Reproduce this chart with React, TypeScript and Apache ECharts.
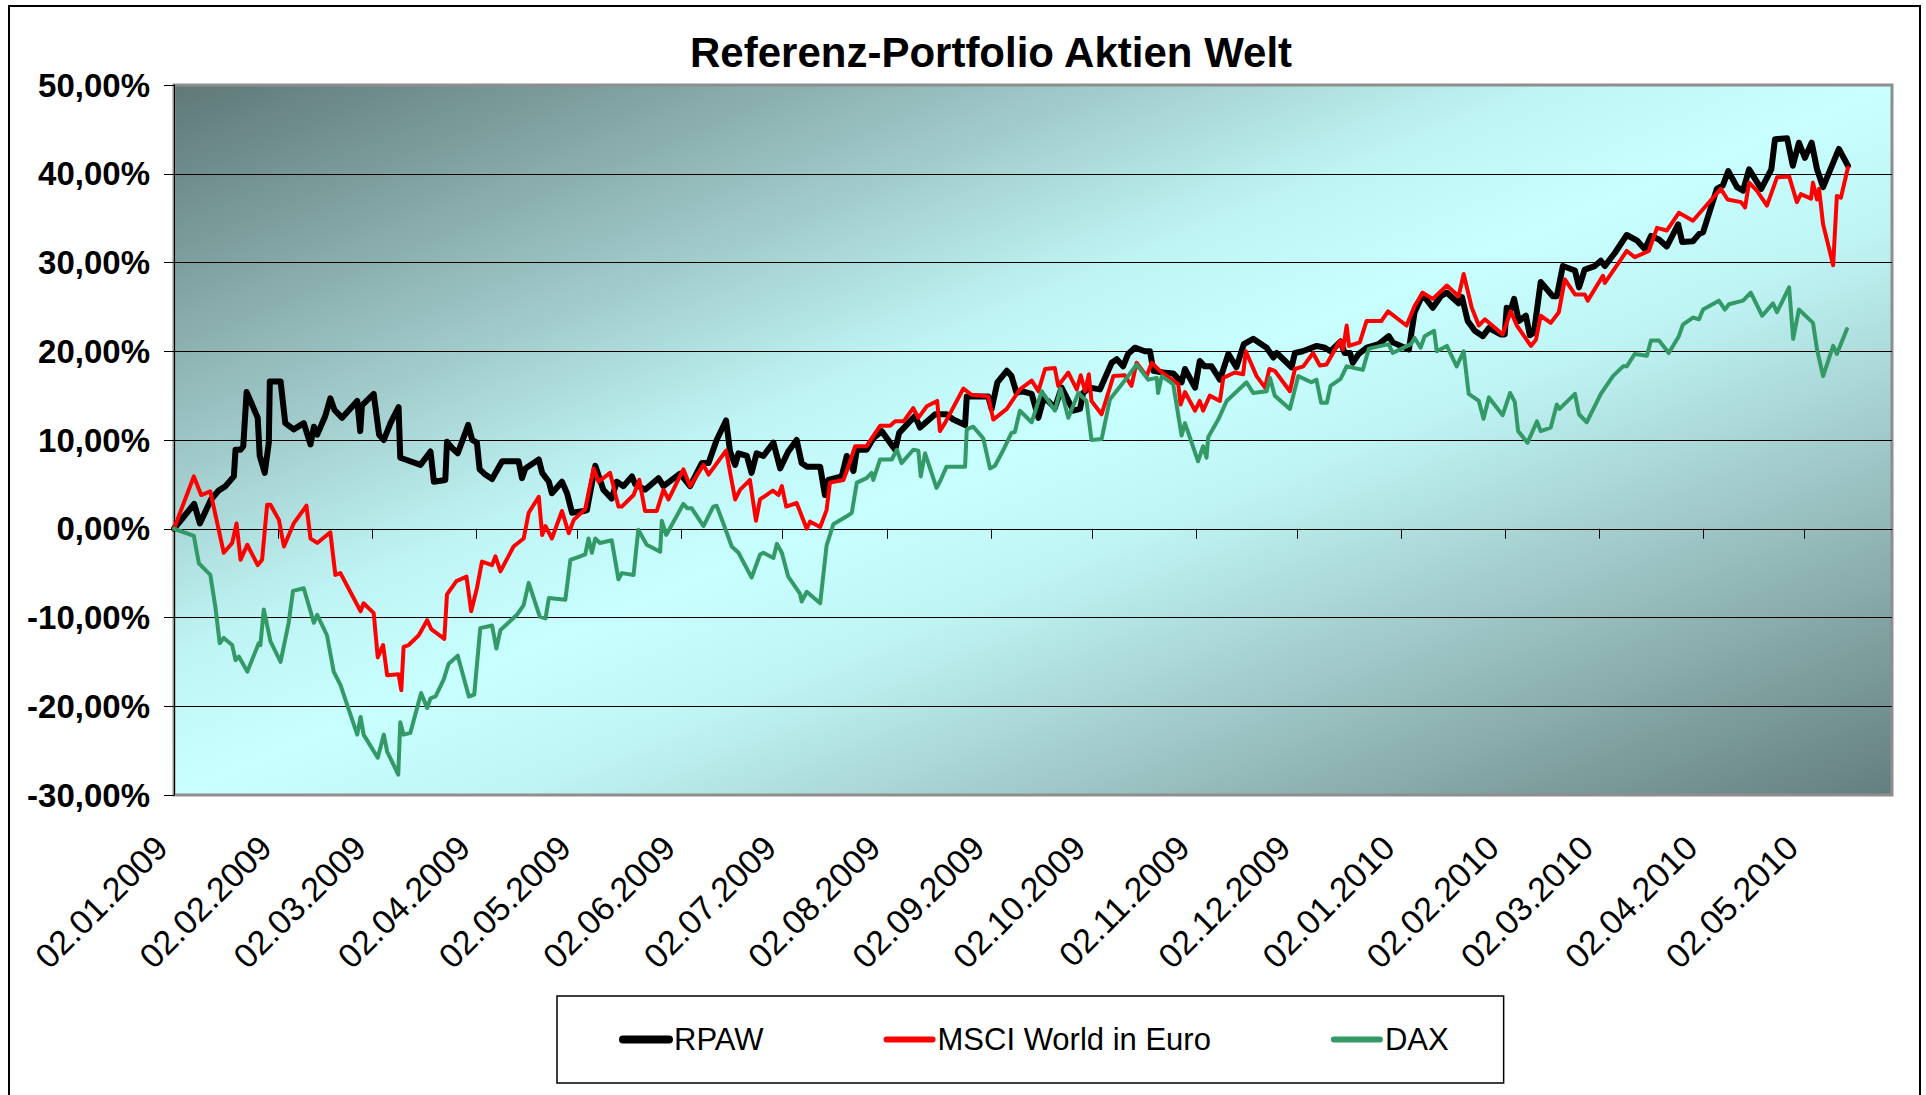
import React, { useEffect, useRef } from 'react';
import * as echarts from 'echarts';

const TITLE = 'Referenz-Portfolio Aktien Welt';
const START = { y: 2009, m: 1, d: 2 };
const X_MAX_DAY = 511;
const TICK_LABELS = [
  '02.01.2009', '02.02.2009', '02.03.2009', '02.04.2009', '02.05.2009', '02.06.2009',
  '02.07.2009', '02.08.2009', '02.09.2009', '02.10.2009', '02.11.2009', '02.12.2009',
  '02.01.2010', '02.02.2010', '02.03.2010', '02.04.2010', '02.05.2010',
];
const Y_MIN = -30;
const Y_MAX = 50;
const Y_STEP = 10;
const NAMES = ['RPAW', 'MSCI World in Euro', 'DAX'];

// [days since 02.01.2009, performance in %]
const RPAW: [number, number][] = [
  [0, 0], [6, 2.8], [7.7, 0.6], [11, 3.3], [13.3, 4.3], [15.3, 4.8], [17.8, 5.9], [18.3, 8.9],
  [19.8, 8.9], [20.6, 9.3], [21.6, 15.4], [23.2, 14], [24.9, 12.5], [25.5, 8.2], [27, 6.3],
  [28.2, 9.7], [28.5, 16.6], [31.7, 16.6], [33.1, 11.9], [35.6, 11.2], [38.6, 11.9], [40.6, 9.5],
  [41.6, 11.5], [42.6, 10.6], [45, 12.7], [46.5, 14.7], [47.7, 13.4], [50, 12.5], [54.5, 14.4],
  [55.4, 11], [55.9, 13.9], [59.4, 15.2], [61, 10.6], [62.4, 10], [64.4, 11.9], [66.8, 13.7],
  [67.3, 8], [68.8, 7.8], [73.3, 7.2], [76.3, 8.7], [77.3, 5.3], [80.7, 5.5], [81.2, 9.8],
  [82.7, 9.1], [84.4, 8.5], [87.5, 11.7], [88.7, 10], [90.1, 9.7], [90.9, 6.7], [92.6, 6.1],
  [94.6, 5.6], [97.6, 7.6], [102.5, 7.6], [103.5, 5.7], [104.5, 6.8], [108.5, 7.8], [109.5, 6.3],
  [111.5, 5.3], [112.4, 4], [115.4, 5.3], [116.9, 4], [118.4, 1.8], [121.9, 2], [122.8, 2.1],
  [125.3, 7.1], [127.7, 4.4], [130.2, 3.4], [131.7, 5.3], [133.7, 4.8], [136.2, 5.9], [137.2, 5],
  [140.1, 4.4], [144.1, 5.7], [145.6, 4.8], [150.5, 6.2], [153.5, 4.8], [157, 7.4], [159, 7.4],
  [161.4, 10], [164.2, 12.2], [165.4, 8.7], [166.9, 7.2], [167.9, 8.5], [170.4, 8.2], [171.8, 6.3],
  [173.3, 8.5], [175.3, 8.2], [178.3, 9.7], [180.3, 6.8], [182.7, 8.7], [185.2, 10], [186.7, 7.4],
  [188.2, 7], [192.2, 7], [193.6, 3.8], [194.6, 5.5], [198.6, 5.9], [200.1, 8.2], [202.1, 6.5],
  [203.1, 8.9], [206, 8.9], [208, 10.2], [210.5, 11], [214.5, 8.9], [215.7, 10.8], [217.9, 11.7],
  [220.4, 12.7], [221.9, 11.4], [226.4, 12.9], [229.8, 12.9], [231.8, 12.3], [235.3, 11.7],
  [235.8, 14.9], [242.2, 14.9], [243.2, 13.5], [244.9, 16.5], [247.7, 17.8], [249.1, 17.2],
  [250.6, 15.3], [252.1, 15.5], [255.1, 15.2], [257.1, 12.5], [258.6, 14.6], [260, 14.4],
  [262, 13.6], [264, 15.9], [267.5, 13.3], [269.5, 13.5], [270.4, 15.3], [272.4, 15.9],
  [275.4, 15.7], [278.9, 18.7], [280.4, 19.1], [282.3, 18.3], [283.8, 19.7], [285.8, 20.4],
  [288.8, 20], [290.3, 20], [291.3, 17.8], [294.2, 17.6], [297.2, 17.5], [299.7, 16.5],
  [300.7, 18], [303.7, 15.9], [305.1, 18.9], [306.6, 18.3], [308.6, 18.3], [311.1, 16.8],
  [313.6, 19.7], [316, 18.2], [318.2, 20.8], [321, 21.4], [325, 20.4], [327, 19.3], [328, 19.8],
  [332.4, 18.2], [333.4, 19.8], [335.7, 20], [339.9, 20.6], [342.3, 20.4], [344, 20], [347, 21.1],
  [348.2, 19.8], [349.8, 19.8], [350.6, 18.7], [352.4, 19.7], [354.8, 20.4], [358.3, 20.8],
  [361.3, 21.7], [362.5, 21], [367.3, 20.2], [369, 24.4], [371.4, 26.4], [374.4, 24.9],
  [376.8, 26.2], [378.6, 26.6], [382.1, 25.4], [383.1, 26.1], [384.8, 23.4], [386.9, 22.3],
  [389.3, 21.7], [391.1, 22.6], [394.6, 21.9], [395.8, 21.9], [396.4, 24.9], [397.6, 24.7],
  [398.6, 25.9], [400, 23.4], [402.1, 24], [403.3, 21.8], [404.5, 22.1], [406.5, 27.8],
  [410.1, 26.2], [411.3, 26.2], [413.1, 29.6], [416.7, 29.1], [417.9, 27.2], [419.6, 29.2],
  [422.6, 29.6], [424.4, 30.2], [425.6, 29.6], [428.6, 31.1], [432.1, 33.1], [435.1, 32.5],
  [437.5, 31.5], [439.3, 33], [441.7, 32.6], [444, 31.8], [447.4, 34.3], [448.6, 32.3],
  [451.8, 32.4], [453.6, 33.2], [454.8, 33.4], [458.9, 38.3], [460.7, 38.7], [462.3, 40.3],
  [464.9, 38.5], [466.7, 38.1], [468.5, 40.5], [472.1, 38.3], [475.1, 40.5], [476.2, 43.9],
  [479.8, 44], [481.5, 40.9], [483.3, 43.5], [485.1, 41.8], [487.1, 43.5], [488.7, 40.5],
  [490.5, 38.5], [495.2, 42.8], [497.9, 40.9],
];

const MSCI: [number, number][] = [
  [0, 0], [5.9, 5.9], [8.1, 3.8], [10.8, 4.2], [14.8, -2.7], [17.3, -1.6], [18.6, 0.6],
  [19.8, -3.5], [21.8, -1.8], [24.9, -4.1], [26.2, -3.5], [27.7, 2.7], [28.7, 2.7], [31.2, 1],
  [32.7, -2], [35.6, 0.6], [39.4, 2.6], [40.6, -1.1], [42.6, -1.6], [46.5, -0.4], [48, -5.2],
  [49.5, -5], [55.5, -9.3], [56.4, -8.4], [59.4, -9.5], [60.6, -14.5], [62.2, -13.1],
  [63.4, -16.5], [66.8, -16.4], [67.6, -18.2], [68.3, -13.3], [69.8, -13.1], [72.8, -12],
  [75.3, -10.3], [76.5, -11.3], [80.4, -12.4], [81.2, -7.4], [84, -5.9], [87, -5.4], [88.4, -9.3],
  [90.1, -6.7], [91.6, -3.7], [94.6, -4.1], [95.6, -3.1], [97.1, -4.8], [101, -2], [104, -1.1],
  [105.5, 1.8], [108.5, 3.6], [109.5, -0.7], [110.5, 0.3], [112.4, -1.1], [115.4, 2],
  [117.4, -0.5], [118.9, 1], [122.3, 2.2], [124.8, 6.8], [126.3, 5.3], [129.7, 6.3], [132.2, 2.5],
  [133.2, 2.5], [136.7, 3.8], [138.4, 5.5], [140.1, 2], [143.6, 2], [145.6, 4.4], [147.1, 3.3],
  [151.5, 6.7], [153.5, 4.8], [157.5, 7.2], [159, 6.1], [164.2, 8.8], [166.9, 3.3], [168.4, 4.4],
  [171.3, 5.5], [173.1, 0.9], [174.3, 3.3], [178.1, 4.3], [179.8, 3.8], [180.8, 4.8], [182.1, 2.5],
  [185.2, 2.9], [188.2, 0], [189.2, 0.8], [192.2, 0.2], [194.1, 2.1], [195.1, 5.2], [199.1, 5.5],
  [200.1, 6.5], [202.6, 9.3], [206, 9.3], [210, 11.6], [213, 11.6], [214.5, 12.1], [217, 12.1],
  [219.9, 13.6], [221.4, 12.5], [223.9, 13.8], [227, 14.4], [227.8, 11], [229.3, 11.9],
  [234.8, 15.8], [237.2, 15.1], [242.2, 14.9], [243.7, 12.3], [247.7, 13.5], [251.6, 15.7],
  [255.1, 16.7], [257.1, 15.5], [259.1, 18], [262, 18.1], [263, 16.1], [266, 17.6], [268.5, 15.7],
  [269.7, 17.3], [271, 15.5], [272.1, 17.4], [272.9, 14.4], [275.9, 12.9], [278.2, 15.7],
  [279.4, 17.2], [282.8, 17.3], [284.8, 16.1], [286.3, 18.7], [289.3, 17.2], [290.8, 18.7],
  [293.2, 17.8], [298.7, 16.3], [299.4, 14], [300.7, 15.4], [303.7, 13.3], [305.1, 14.4],
  [306.1, 13.3], [308.1, 15], [311.1, 14.4], [312.1, 17], [315.5, 17.6], [318, 17.4], [318.8, 20],
  [322, 17.2], [324.5, 15.9], [325.8, 18], [327.4, 17.8], [331.9, 15.5], [333.4, 18], [335.9, 18.3],
  [338.8, 19.8], [340.8, 18.4], [342.8, 18.5], [346.8, 21.2], [347.7, 20.2], [348.8, 22.9],
  [349.5, 20.6], [352.7, 21], [354.7, 23.4], [359.1, 23.4], [361.1, 24.5], [366.6, 22.9],
  [369, 25.1], [371.4, 26.6], [374.4, 25.9], [378.6, 27.4], [382.1, 26.2], [383.6, 28.7],
  [386, 24.9], [388.1, 22.9], [389.9, 23.6], [395.2, 21.9], [397.6, 24.5], [399.4, 22.9],
  [403.6, 20.6], [405.1, 21.3], [406.5, 24], [409.5, 23.2], [411.9, 24.4], [413.7, 28.1],
  [416.7, 26.4], [419.6, 26.4], [420.5, 25.7], [425, 28.5], [425.6, 27.7], [432.1, 31.3],
  [434.5, 30.6], [438.7, 31.3], [441.1, 33.9], [444, 33.6], [447.6, 35.6], [451.8, 34.7],
  [453.6, 35.5], [460.1, 38.3], [462.1, 37.1], [466.1, 36.8], [467.3, 36.2], [468.5, 39],
  [470.8, 38.1], [473.8, 36.4], [476.8, 39.6], [480.4, 39.7], [482.7, 36.8], [483.9, 37.7],
  [486.9, 37.2], [487.5, 39], [488.7, 37.1], [489.3, 38.3], [490.5, 34.3], [493.5, 29.7],
  [494.6, 37.5], [495.8, 37.3], [497.9, 40.7],
];

const DAX: [number, number][] = [
  [0, 0], [5.9, -0.8], [7.4, -3.9], [10.8, -5.2], [12.3, -8.8], [13.6, -12.9], [14.8, -12.3],
  [17.3, -13.1], [18.3, -14.8], [19.3, -14.4], [21.8, -16.1], [25.2, -12.9], [25.7, -13.1],
  [26.7, -9.1], [28.7, -12.7], [31.7, -15], [34.1, -10.6], [35.4, -7], [38.6, -6.7], [40.6, -9.3],
  [41.6, -10.6], [42.6, -9.7], [45.5, -12], [47.5, -16.1], [49.5, -17.6], [54.5, -23.2],
  [55.5, -21.2], [56.4, -23.2], [60.6, -25.8], [62.4, -23.2], [63.4, -25.1], [66.7, -27.7],
  [67.3, -21.8], [68.3, -23.2], [70.3, -23], [73.5, -18.5], [75.3, -20.2], [76.3, -19.1],
  [77.8, -18.9], [80.2, -17], [81.7, -15.2], [84.4, -14.3], [87.7, -18.9], [89.3, -18.7],
  [91.1, -11.2], [94.6, -10.9], [95.9, -13.5], [97.1, -11.4], [102, -9.7], [104, -8.6],
  [105.5, -6.1], [108.8, -9.9], [110.5, -10.1], [111.5, -7.8], [116.4, -8], [117.9, -3.5],
  [120.8, -3.1], [122.3, -2.9], [123.3, -1.1], [124.3, -2.7], [125.3, -1.1], [126.7, -1.6],
  [130.2, -1.3], [132.2, -5.7], [133.2, -5], [136.7, -5.2], [138.1, -0.1], [140.6, -1.8],
  [144.6, -2.6], [145.1, 0.9], [146.4, -0.7], [151.5, 2.8], [152.7, 2.3], [154, 2.3], [157.5, 0.3],
  [160.4, 2.5], [161.4, 2.6], [163.4, 0.6], [165.9, -2], [167.9, -2.7], [171.8, -5.5],
  [174.3, -2.9], [175.3, -2.7], [178.3, -3.3], [179.3, -1.7], [180.8, -2.7], [182.7, -5.4],
  [186.2, -7.3], [186.7, -8.2], [188.2, -7.1], [192.2, -8.4], [194.1, -1.9], [196.1, 0.5],
  [200.1, 1.4], [201.6, 1.8], [203.1, 5.2], [206, 5.7], [207.5, 6.3], [208, 5.5], [210, 7.8],
  [213.5, 7.8], [215, 8.9], [216.4, 7.4], [219.9, 8.9], [221.4, 8.8], [222.1, 5.9], [223.4, 8.5],
  [226.8, 4.6], [227.8, 5.3], [229.8, 7], [235.3, 7], [235.8, 11.2], [237.7, 11.5], [240.7, 10.2],
  [242.7, 6.8], [244.2, 7.1], [246.7, 8.9], [249.1, 10.8], [250.1, 10.9], [251.6, 13.3],
  [255.1, 12], [258.1, 15.5], [262, 13.3], [263.7, 15.8], [266, 12.5], [269, 15.3], [271.4, 14.4],
  [272.9, 10], [275.9, 10.1], [278.4, 14.6], [282.8, 16.7], [286.3, 18.5], [289.8, 16.8],
  [292.3, 17], [292.7, 15.3], [293.8, 17.2], [297.2, 16.3], [299.7, 10.5], [300.7, 11.9],
  [304.6, 7.6], [306.1, 9.3], [307.1, 8], [307.6, 10.3], [310.6, 12.3], [313.1, 14.4], [319, 16.5],
  [321, 15.3], [325, 15.5], [326, 17], [327.4, 15], [331.9, 13.5], [334.4, 17.2], [338.3, 16.5],
  [339.8, 16.8], [341.2, 14.2], [342.9, 14.2], [344, 16.1], [347, 16.9], [348.8, 18.3],
  [353.6, 17.9], [355.4, 20.3], [361.3, 20.8], [362.5, 19.8], [367.9, 20.8], [369, 21.5],
  [370.8, 20.4], [372, 21.7], [374.8, 22.3], [375.6, 20], [378.6, 20.6], [381.5, 18.3],
  [383.6, 20], [385.1, 15.2], [388.1, 14.4], [389.5, 12.4], [391.1, 14.8], [395.2, 12.8],
  [397.4, 15.3], [398.8, 14.3], [399.8, 11], [402.6, 9.7], [405.4, 12.1], [406.5, 11],
  [409.5, 11.4], [411.3, 14], [412.1, 13.5], [416.7, 15.2], [417.9, 12.9], [420.2, 12],
  [424.4, 15.2], [428, 17.2], [431, 18.3], [432.1, 18.3], [434.5, 19.7], [438.1, 19.5],
  [439.3, 21.2], [441.7, 21.2], [444.6, 19.8], [447.6, 21.7], [448.8, 23], [451.8, 23.8],
  [453.6, 23.6], [454.8, 24.7], [459.5, 25.7], [461.3, 24.7], [462.5, 25.3], [466.7, 25.7],
  [469, 26.6], [472.4, 24], [475.6, 25.4], [476.8, 24.4], [480.4, 27.2], [481.6, 21.4],
  [483.3, 24.7], [487.5, 23.2], [488.7, 20.2], [490.5, 17.2], [493.5, 20.6], [494.6, 19.7],
  [497.6, 22.5],
];

const FONT = "'Liberation Sans', Arial, sans-serif";

function labelToDay(label: string): number {
  const [d, m, y] = label.split('.').map(Number);
  const t = Date.UTC(y, m - 1, d);
  const s = Date.UTC(START.y, START.m - 1, START.d);
  return Math.round((t - s) / 86400000);
}

const TICK_DAYS = TICK_LABELS.map(labelToDay);

export default function App() {
  const ref = useRef<HTMLDivElement>(null);

  useEffect(() => {
    if (!ref.current) return;
    const chart = echarts.init(ref.current, undefined, { renderer: 'svg' });
    const dayToLabel = (v: number) => {
      const i = TICK_DAYS.indexOf(Math.round(v));
      return i >= 0 ? TICK_LABELS[i] : '';
    };
    const hiddenSymbol = { color: 'rgba(0,0,0,0)', borderWidth: 0, opacity: 0 };
    const option: any = {
      animation: false,
      backgroundColor: '#ffffff',
      title: {
        text: TITLE,
        left: 685,
        top: 26,
        textStyle: { fontSize: 42, fontWeight: 'bold', fontFamily: FONT, color: '#000' },
      },
      graphic: [
        {
          type: 'rect',
          shape: { x: 9, y: 6, width: 1911, height: 1200 },
          style: { fill: 'none', stroke: '#000', lineWidth: 2 },
          silent: true,
        },
      ],
      grid: {
        left: 174,
        top: 85,
        width: 1718,
        height: 710,
        show: true,
        borderColor: '#8e8e8e',
        borderWidth: 3,
        backgroundColor: {
          type: 'linear',
          x: 0,
          y: 0,
          x2: 1,
          y2: 1,
          colorStops: [
            { offset: 0, color: '#5f7878' },
            { offset: 0.25, color: '#9cc4c4' },
            { offset: 0.4, color: '#bff4f4' },
            { offset: 0.5, color: '#c8ffff' },
            { offset: 0.6, color: '#bff4f4' },
            { offset: 0.75, color: '#a0c8c8' },
            { offset: 1, color: '#647e7e' },
          ],
        },
      },
      legend: {
        left: 557,
        top: 996,
        padding: [28, 55, 28, 62],
        itemGap: 120,
        itemWidth: 46,
        itemHeight: 10,
        backgroundColor: '#fff',
        borderColor: '#000',
        borderWidth: 1.5,
        textStyle: { fontSize: 31, fontFamily: FONT, color: '#000' },
        data: [
          { name: NAMES[0], itemStyle: hiddenSymbol, lineStyle: { width: 8, cap: 'round' } },
          { name: NAMES[1], itemStyle: hiddenSymbol, lineStyle: { width: 6, cap: 'round' } },
          { name: NAMES[2], itemStyle: hiddenSymbol, lineStyle: { width: 6, cap: 'round' } },
        ],
      },
      xAxis: [
        {
          type: 'value',
          min: 0,
          max: X_MAX_DAY,
          position: 'bottom',
          axisLine: { show: true, onZero: true, lineStyle: { color: '#000', width: 1 } },
          axisTick: { show: true, customValues: TICK_DAYS, length: 10, inside: false, lineStyle: { color: '#000', width: 1 } },
          axisLabel: { show: false },
          splitLine: { show: false },
        },
        {
          type: 'value',
          min: 0,
          max: X_MAX_DAY,
          position: 'bottom',
          axisLine: { show: false, onZero: false },
          axisTick: { show: false },
          splitLine: { show: false },
          axisLabel: {
            show: true,
            customValues: TICK_DAYS,
            rotate: 45,
            margin: 34,
            padding: [0, 18, 0, 0],
            fontSize: 34,
            fontFamily: FONT,
            color: '#000',
            formatter: (v: number) => dayToLabel(v),
          },
        },
      ],
      yAxis: {
        type: 'value',
        min: Y_MIN,
        max: Y_MAX,
        interval: Y_STEP,
        axisLine: { show: true, onZero: false, lineStyle: { color: '#000', width: 1 } },
        axisTick: { show: true, length: 10, inside: false, lineStyle: { color: '#000', width: 1 } },
        axisLabel: {
          margin: 24,
          fontSize: 33,
          fontWeight: 'bold',
          fontFamily: FONT,
          color: '#000',
          formatter: (v: number) => `${v},00%`,
        },
        splitLine: {
          show: true,
          showMinLine: false,
          showMaxLine: false,
          lineStyle: { color: '#000', width: 1 },
        },
      },
      series: [
        {
          name: NAMES[0],
          type: 'line',
          data: RPAW,
          symbol: 'none',
          xAxisIndex: 0,
          lineStyle: { color: '#000000', width: 6, join: 'round', cap: 'round' },
          itemStyle: { color: '#000000' },
        },
        {
          name: NAMES[1],
          type: 'line',
          data: MSCI,
          symbol: 'none',
          xAxisIndex: 0,
          lineStyle: { color: '#ff0000', width: 4, join: 'round', cap: 'round' },
          itemStyle: { color: '#ff0000' },
        },
        {
          name: NAMES[2],
          type: 'line',
          data: DAX,
          symbol: 'none',
          xAxisIndex: 0,
          lineStyle: { color: '#339966', width: 4, join: 'round', cap: 'round' },
          itemStyle: { color: '#339966' },
        },
      ],
    };
    chart.setOption(option);
    return () => chart.dispose();
  }, []);

  return (
    <div
      ref={ref}
      style={{ position: 'fixed', left: 0, top: 0, width: 1926, height: 1095, background: '#fff' }}
    />
  );
}
